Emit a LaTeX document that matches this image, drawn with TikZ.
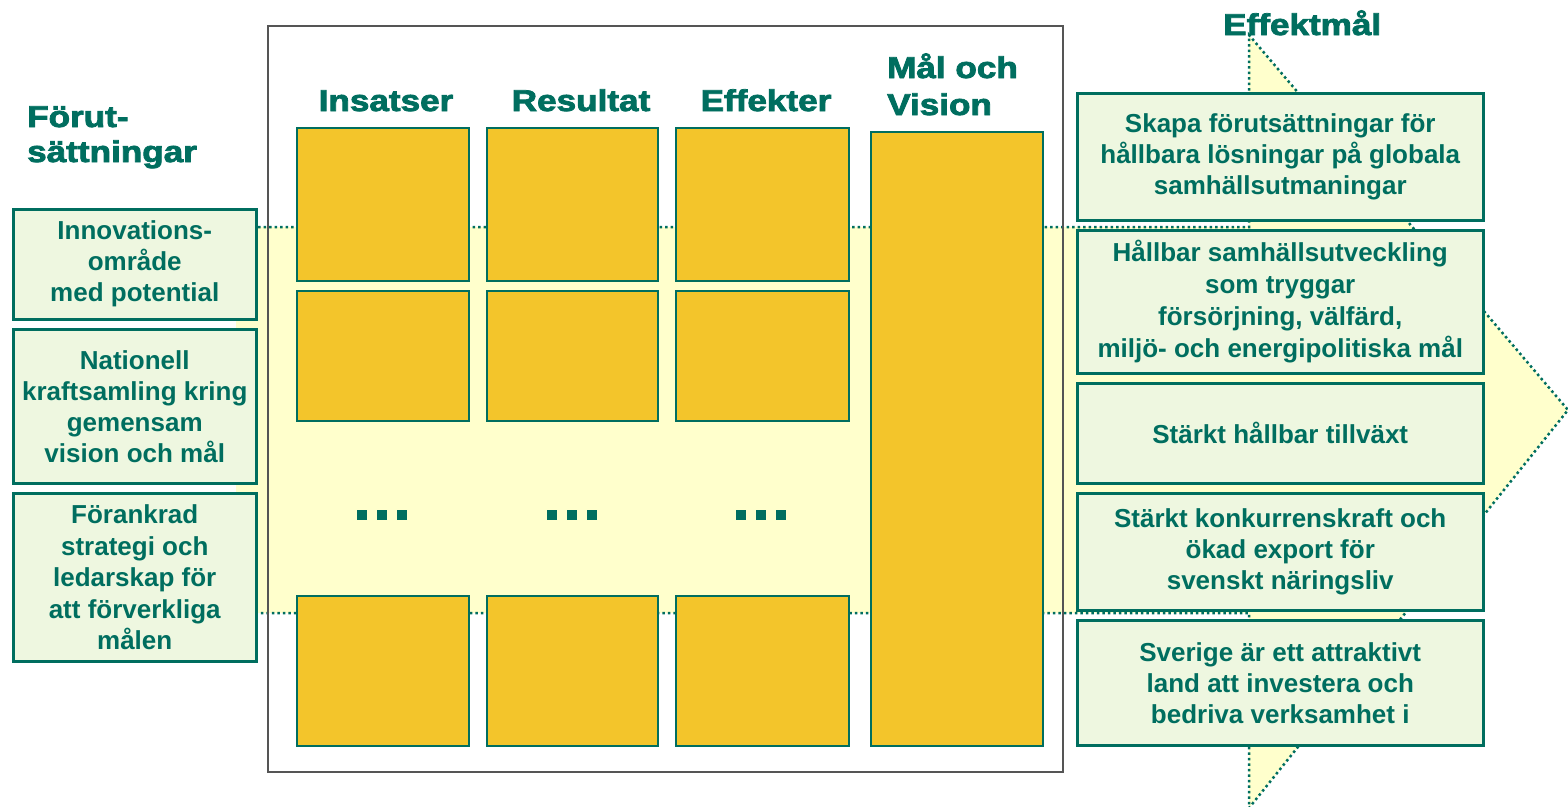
\documentclass[tikz,border=0pt]{standalone}
\usepackage{fontspec}
\setmainfont{Liberation Sans}
\newfontface\headfont{Liberation Sans Bold}[FakeBold=2.5]
\definecolor{teal}{HTML}{006E5F}
\definecolor{greenfill}{HTML}{EEF7E0}
\definecolor{gold}{HTML}{F3C52B}
\definecolor{band}{HTML}{FFFFCC}
\definecolor{frame}{HTML}{555555}
\begin{document}
\begin{tikzpicture}[x=1pt,y=-1pt,
  greenbox/.style={draw=teal, fill=greenfill, line width=2.5pt, anchor=north west, inner sep=0pt,
    align=center, text=teal, font=\fontsize{26}{31}\selectfont\bfseries},
  goldbox/.style={draw=teal, fill=gold, line width=2pt, anchor=north west, inner sep=0pt},
  header/.style={text=teal, inner sep=0pt, font=\fontsize{30}{36}\selectfont\headfont},
  dotsq/.style={fill=teal}
]
\useasboundingbox (0,0) rectangle (1568,806);
% band arrow
\draw[fill=band, draw=teal, line width=2.5pt, dash pattern=on 2.5pt off 3pt]
  (236,227) -- (1249,227) -- (1249,35) -- (1568,410) -- (1249,808) -- (1249,613) -- (236,613);
% outer frame
\node[draw=frame, line width=2pt, anchor=north west, minimum width=795pt, minimum height=746pt, inner sep=0pt] (frame) at (267,25) {};
% headers
\node[header, anchor=base] (hIns) at (386,111) {\scalebox{1.17}[1]{Insatser}};
\node[header, anchor=base] (hRes) at (581,111) {\scalebox{1.17}[1]{Resultat}};
\node[header, anchor=base] (hEff) at (766,111) {\scalebox{1.17}[1]{Effekter}};
\node[header, anchor=base west] (hMal1) at (887,78) {\scalebox{1.17}[1]{Mål och}};
\node[header, anchor=base west] (hMal2) at (887,115) {\scalebox{1.17}[1]{Vision}};
\node[header, anchor=base west] (hFor1) at (27,127) {\scalebox{1.17}[1]{Förut-}};
\node[header, anchor=base west] (hFor2) at (27,162) {\scalebox{1.17}[1]{sättningar}};
\node[header, anchor=base west] (hEffm) at (1223,35) {\scalebox{1.17}[1]{Effektmål}};
% left boxes
\node[greenbox, minimum width=243pt, minimum height=110pt] (l1) at (12,208) {Innovations-\\område\\med potential};
\node[greenbox, minimum width=243pt, minimum height=154pt] (l2) at (12,328) {Nationell\\kraftsamling kring\\gemensam\\vision och mål};
\node[greenbox, minimum width=243pt, minimum height=168pt, font=\fontsize{26}{31.5}\selectfont\bfseries] (l3) at (12,492) {Förankrad\\strategi och\\ledarskap för\\att förverkliga\\målen};
% gold boxes
\node[goldbox, minimum width=172pt, minimum height=153pt] (a1) at (296,127) {};
\node[goldbox, minimum width=171pt, minimum height=153pt] (b1) at (486,127) {};
\node[goldbox, minimum width=173pt, minimum height=153pt] (c1) at (675,127) {};
\node[goldbox, minimum width=172pt, minimum height=130pt] (a2) at (296,290) {};
\node[goldbox, minimum width=171pt, minimum height=130pt] (b2) at (486,290) {};
\node[goldbox, minimum width=173pt, minimum height=130pt] (c2) at (675,290) {};
\node[goldbox, minimum width=172pt, minimum height=150pt] (a3) at (296,595) {};
\node[goldbox, minimum width=171pt, minimum height=150pt] (b3) at (486,595) {};
\node[goldbox, minimum width=173pt, minimum height=150pt] (c3) at (675,595) {};
\node[goldbox, minimum width=172pt, minimum height=614pt] (m) at (870,131) {};
% dots
\foreach \cx in {357,547,736}{
  \foreach \k in {0,1,2}{
    \fill[dotsq] (\cx+20*\k,510) rectangle ++(10,10);
  }
}
% right boxes
\node[greenbox, minimum width=406pt, minimum height=127pt] (r1) at (1076,92) {\raisebox{-4pt}{\parbox{400pt}{\centering Skapa förutsättningar för\\hållbara lösningar på globala\\samhällsutmaningar}}};
\node[greenbox, minimum width=406pt, minimum height=143pt, font=\fontsize{26}{32}\selectfont\bfseries] (r2) at (1076,229) {Hållbar samhällsutveckling\\som tryggar\\försörjning, välfärd,\\miljö- och energipolitiska mål};
\node[greenbox, minimum width=406pt, minimum height=100pt] (r3) at (1076,382) {Stärkt hållbar tillväxt};
\node[greenbox, minimum width=406pt, minimum height=117pt] (r4) at (1076,492) {Stärkt konkurrenskraft och\\ökad export för\\svenskt näringsliv};
\node[greenbox, minimum width=406pt, minimum height=125pt] (r5) at (1076,619) {Sverige är ett attraktivt\\land att investera och\\bedriva verksamhet i};
\end{tikzpicture}
\end{document}
